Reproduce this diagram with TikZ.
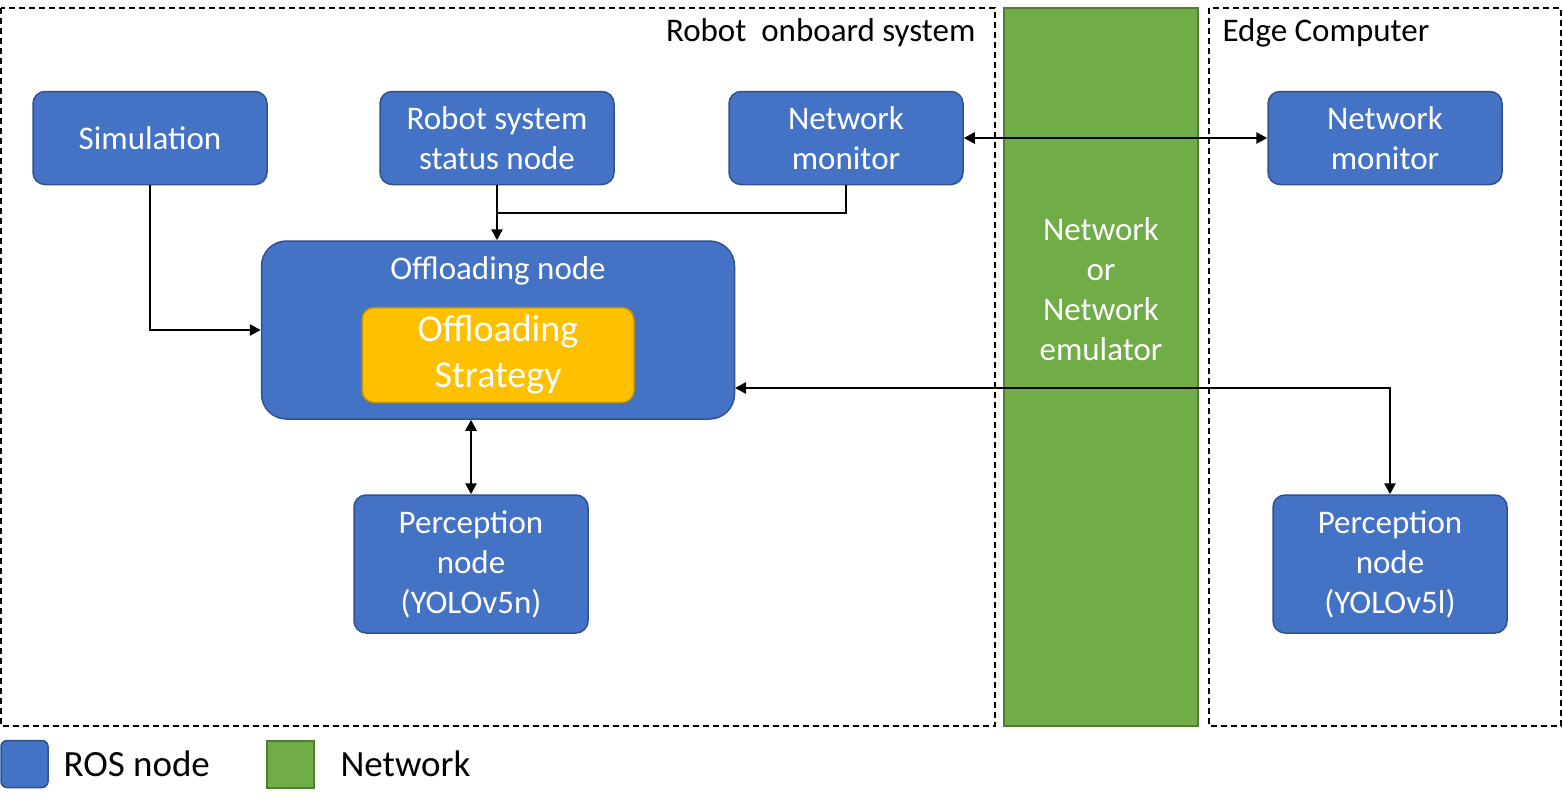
\documentclass[tikz,border=0pt]{standalone}
\usepackage{fontspec}
\setmainfont{Carlito}
\usetikzlibrary{arrows.meta}
\definecolor{rosblue}{HTML}{4472C4}
\definecolor{rosedge}{HTML}{2F528F}
\definecolor{netgreen}{HTML}{70AD47}
\definecolor{netedge}{HTML}{507E32}
\definecolor{stratfill}{HTML}{FFC000}
\definecolor{stratedge}{HTML}{BF9000}

\begin{document}
\begin{tikzpicture}[x=1pt,y=-1pt, >={Triangle[length=11pt,width=11pt]},
    rnode/.style={draw=rosedge, fill=rosblue, line width=1.5pt, rounded corners=12pt, text=white, align=center, minimum width=234pt, minimum height=93pt, inner sep=0pt, font=\fontsize{33}{40}\selectfont},
    frame/.style={draw, dashed, dash pattern=on 6pt off 4pt, line width=1.5pt},
    conn/.style={line width=2.6pt}]
    \useasboundingbox (0,0) rectangle (1563,809);

    % frames and network band
    \draw[frame] (1,8) rectangle (995,726);
    \draw[frame] (1209,8) rectangle (1561,726);
    \node[draw=netedge, fill=netgreen, line width=1.5pt, minimum width=194pt, minimum height=718pt, inner sep=0pt] (net) at (1101,367) {};
    \node[text=white, align=center, font=\fontsize{33}{40}\selectfont] (nett) at (1101,289) {Network\\or\\Network\\emulator};
    \node[anchor=east, font=\fontsize{33}{38}\selectfont] (rtitle) at (979,33) {Robot\ \ onboard system};
    \node[anchor=west, font=\fontsize{33}{38}\selectfont] (etitle) at (1219,33) {Edge Computer};

    % ROS nodes
    \node[rnode] (sim) at (150,138) {Simulation};
    \node[rnode] (status) at (497,138) {Robot system\\status node};
    \node[rnode] (nmL) at (846,138) {Network\\monitor};
    \node[rnode] (nmR) at (1385,138) {Network\\monitor};
    \node[rnode, rounded corners=25pt, minimum width=473pt, minimum height=178pt] (offl) at (498,330) {};
    \node[text=white, font=\fontsize{33}{38}\selectfont] (offt) at (498,271) {Offloading node};
    \node[rnode, draw=stratedge, fill=stratfill, minimum width=272pt, minimum height=95pt, font=\fontsize{38}{46}\selectfont] (strat) at (498,355) {Offloading\\Strategy};
    \node[rnode, minimum height=138pt] (percL) at (471,564) {Perception\\node\\(YOLOv5n)};
    \node[rnode, minimum height=138pt] (percR) at (1390,564) {Perception\\node\\(YOLOv5l)};

    \coordinate (j) at (497,213);
    \coordinate (offr) at (735,388);

    % connectors
    \draw[conn,->] (sim.south) |- (offl.west);
    \draw[conn,->] (status.south) -- (status.south |- offl.north);
    \draw[conn] (nmL.south) |- (j);
    \draw[conn,<->] (nmL) -- (nmR);
    \draw[conn,<->] (offr) -| (percR.north);
    \draw[conn,<->] (percL.north |- offl.south) -- (percL.north);

    % legend
    \node[draw=rosedge, fill=rosblue, line width=1.5pt, rounded corners=6pt, minimum size=47pt, inner sep=0pt] (lros) at (24.5,764) {};
    \node[anchor=west, font=\fontsize{37}{44}\selectfont] (lrost) at (60,764) {ROS node};
    \node[draw=netedge, fill=netgreen, line width=1.5pt, minimum size=47pt, inner sep=0pt] (lnet) at (290.5,764.5) {};
    \node[anchor=west, font=\fontsize{37}{44}\selectfont] (lnett) at (337,764) {Network};
\end{tikzpicture}
\end{document}
